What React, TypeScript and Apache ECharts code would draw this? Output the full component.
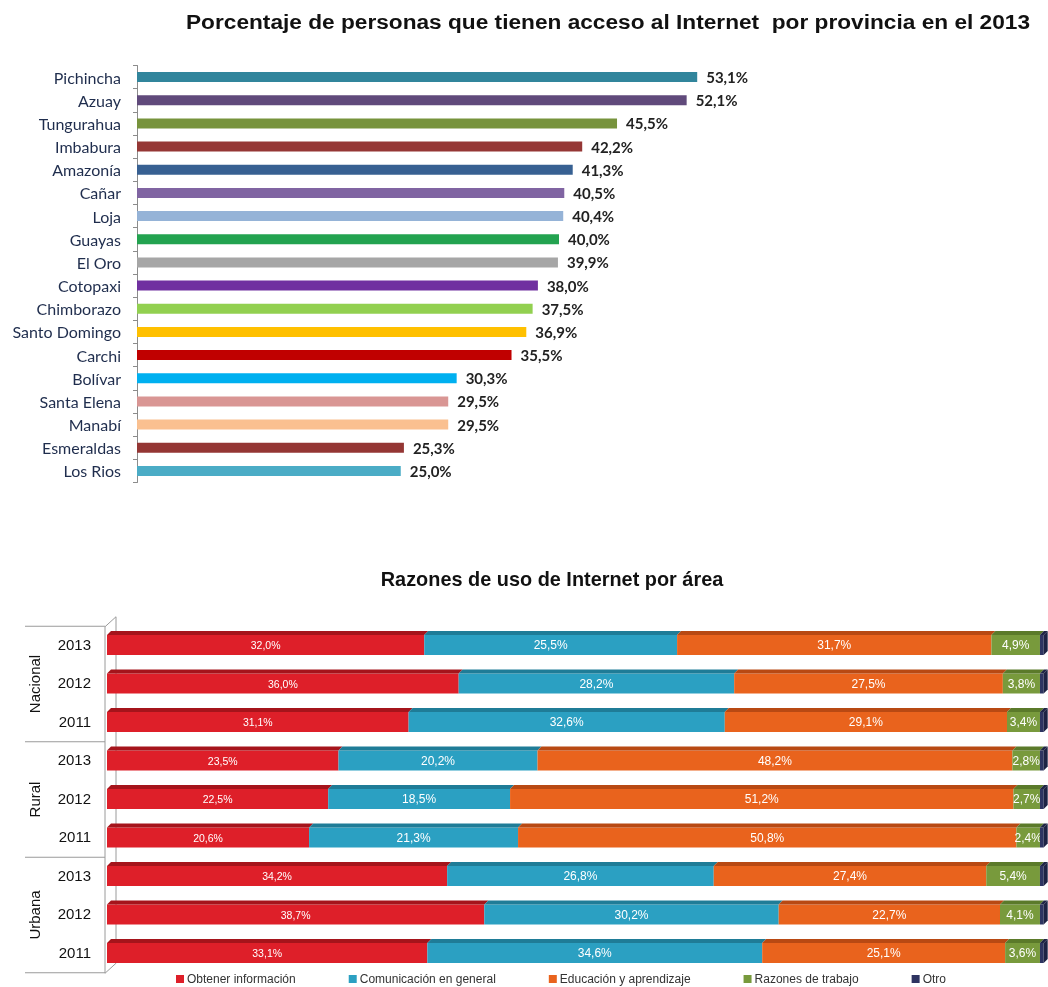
import React, { useEffect, useRef } from "react";
import * as echarts from "echarts";

// ---------- Top chart data ----------
const provinces = [
  "Pichincha", "Azuay", "Tungurahua", "Imbabura", "Amazonía", "Cañar", "Loja", "Guayas", "El Oro",
  "Cotopaxi", "Chimborazo", "Santo Domingo", "Carchi", "Bolívar", "Santa Elena", "Manabí", "Esmeraldas", "Los Rios",
];
const accessPct = [53.1, 52.1, 45.5, 42.2, 41.3, 40.5, 40.4, 40.0, 39.9, 38.0, 37.5, 36.9, 35.5, 30.3, 29.5, 29.5, 25.3, 25.0];
const provinceColors = [
  "#31859C", "#604A7B", "#77933C", "#953735", "#376092", "#8064A2", "#95B3D7", "#23A350", "#A6A6A6",
  "#7030A0", "#92D050", "#FFC000", "#C00000", "#00B0F0", "#D99694", "#FAC090", "#943634", "#4BACC6",
];

// ---------- Bottom chart data ----------
const areas = ["Nacional", "Rural", "Urbana"];
const yearRows = ["2013", "2012", "2011", "2013", "2012", "2011", "2013", "2012", "2011"];
const obtener = [32.0, 36.0, 31.1, 23.5, 22.5, 20.6, 34.2, 38.7, 33.1];
const comunicacion = [25.5, 28.2, 32.6, 20.2, 18.5, 21.3, 26.8, 30.2, 34.6];
const educacion = [31.7, 27.5, 29.1, 48.2, 51.2, 50.8, 27.4, 22.7, 25.1];
const trabajo = [4.9, 3.8, 3.4, 2.8, 2.7, 2.4, 5.4, 4.1, 3.6];
const otro = [0.4, 0.4, 0.4, 0.4, 0.4, 0.4, 0.4, 0.4, 0.4];
const reasonNames = ["Obtener información", "Comunicación en general", "Educación y aprendizaje", "Razones de trabajo", "Otro"];
const reasonColors = ["#DE1F29", "#2BA0C2", "#E9631D", "#789A3C", "#2E3461"];
const reasonTopColors = ["#A5141B", "#1F7C97", "#B84913", "#5B7A2A", "#1E2344"];

const fmt = (v: number) => v.toFixed(1).replace(".", ",") + "%";

// layout constants
const TOP_GRID = { left: 137, top: 65.5, width: 633, height: 417 };
const BOT_GRID = { left: 107, top: 624.75, width: 936.7, height: 346.5 };
const BAR_H = 20;
const DEPTH = 4;

function buildStack() {
  const all = [obtener, comunicacion, educacion, trabajo];
  const out: any[][] = [[], [], [], [], []];
  for (let r = 0; r < yearRows.length; r++) {
    const sum = all.reduce((s, a) => s + a[r], 0);
    let acc = 0;
    all.forEach((arr, i) => {
      const w = (arr[r] / sum) * 100;
      out[i].push([acc, acc + w, r, arr[r]]);
      acc += w;
    });
    out[4].push([acc, acc + otro[r], r, otro[r]]);
  }
  return out;
}

function makeRender(idx: number) {
  return (params: any, api: any) => {
    const x0 = api.value(0);
    const x1 = api.value(1);
    const row = api.value(2);
    const v = api.value(3);
    const a = api.coord([x0, row]);
    const b = api.coord([x1, row]);
    const cy = a[1] + 1;
    const top = cy - BAR_H / 2;
    const children: any[] = [
      { type: "rect", shape: { x: a[0], y: top, width: b[0] - a[0], height: BAR_H }, style: { fill: reasonColors[idx] } },
      {
        type: "polygon",
        shape: { points: [[a[0], top], [b[0], top], [b[0] + DEPTH, top - DEPTH], [a[0] + DEPTH, top - DEPTH]] },
        style: { fill: reasonTopColors[idx] },
      },
    ];
    if (idx === 4) {
      children.push({
        type: "polygon",
        shape: { points: [[b[0], top], [b[0] + DEPTH, top - DEPTH], [b[0] + DEPTH, top + BAR_H - DEPTH], [b[0], top + BAR_H]] },
        style: { fill: reasonTopColors[idx] },
      });
    } else {
      children.push({
        type: "text",
        style: {
          text: fmt(v),
          x: (a[0] + b[0]) / 2,
          y: cy,
          align: "center",
          verticalAlign: "middle",
          fill: "#ffffff",
          font: idx === 0 ? "10.5px 'Liberation Sans', Arial" : "12px 'Liberation Sans', Arial",
        },
      });
    }
    return { type: "group", children };
  };
}

export default function App() {
  const ref = useRef<HTMLDivElement>(null);
  useEffect(() => {
    if (!ref.current) return;
    const chart = echarts.init(ref.current, null, { renderer: "svg" });
    const stack = buildStack();
    const band = BOT_GRID.height / yearRows.length;
    const gl = BOT_GRID.left;
    const gt = BOT_GRID.top;
    const gb = BOT_GRID.top + BOT_GRID.height;
    const lineStyle = { stroke: "#9a9a9a", lineWidth: 1 };
    const graphics: any[] = [
      {
        type: "text",
        x: 608,
        y: 22,
        scaleX: 1.08,
        style: {
          text: "Porcentaje de personas que tienen acceso al Internet  por provincia en el 2013",
          align: "center",
          verticalAlign: "middle",
          font: "bold 21px 'Liberation Sans', Arial",
          fill: "#111",
        },
      },
      {
        type: "text",
        x: 552,
        y: 579,
        scaleX: 1.02,
        style: {
          text: "Razones de uso de Internet por área",
          align: "center",
          verticalAlign: "middle",
          font: "bold 19.5px 'Liberation Sans', Arial",
          fill: "#111",
        },
      },
      // 3D wall lines
      { type: "line", shape: { x1: gl - 2, y1: gt + 2, x2: gl - 2, y2: gb + 2 }, style: lineStyle },
      { type: "line", shape: { x1: gl - 2, y1: gt + 2, x2: gl + 9, y2: gt - 8 }, style: lineStyle },
      { type: "line", shape: { x1: gl + 9, y1: gt - 8, x2: gl + 9, y2: gb - 8 }, style: lineStyle },
      { type: "line", shape: { x1: gl - 2, y1: gb + 2, x2: gl + 9, y2: gb - 8 }, style: lineStyle },
    ];
    for (let g = 0; g <= areas.length; g++) {
      const y = gt + g * 3 * band + 1.5;
      graphics.push({ type: "line", shape: { x1: 25, y1: y, x2: gl - 2, y2: y }, style: lineStyle });
    }
    areas.forEach((name, g) => {
      graphics.push({
        type: "text",
        x: 34,
        y: gt + (g * 3 + 1.5) * band + 1.5,
        rotation: Math.PI / 2,
        style: { text: name, align: "center", verticalAlign: "middle", font: "15px 'Liberation Sans', Arial", fill: "#111" },
      });
    });

    const option: any = {
      animation: false,
      grid: [
        { ...TOP_GRID, containLabel: false },
        { ...BOT_GRID, containLabel: false },
      ],
      xAxis: [
        { type: "value", gridIndex: 0, min: 0, max: 60, show: false },
        { type: "value", gridIndex: 1, min: 0, max: 100.4, show: false },
      ],
      yAxis: [
        {
          type: "category",
          gridIndex: 0,
          inverse: true,
          data: provinces,
          axisLine: { show: true, lineStyle: { color: "#8c8c8c" } },
          axisTick: { show: true, length: 4, lineStyle: { color: "#8c8c8c" } },
          axisLabel: { margin: 16, fontFamily: "Lato", fontSize: 16, color: "#1F2D4D" },
        },
        {
          type: "category",
          gridIndex: 1,
          inverse: true,
          data: yearRows,
          axisLine: { show: false },
          axisTick: { show: false },
          axisLabel: { margin: 16, fontFamily: "'Liberation Sans', Arial", fontSize: 15, color: "#111" },
        },
      ],
      legend: {
        left: 176,
        top: 973,
        padding: 0,
        itemWidth: 8,
        itemHeight: 8,
        itemGap: 53,
        icon: "rect",
        data: reasonNames,
        textStyle: { fontFamily: "'Liberation Sans', Arial", fontSize: 12, color: "#333", padding: [0, 0, 0, -2] },
      },
      graphic: graphics,
      series: [
        {
          type: "bar",
          xAxisIndex: 0,
          yAxisIndex: 0,
          barWidth: 10,
          data: accessPct.map((v, i) => ({ value: v, itemStyle: { color: provinceColors[i] } })),
          label: {
            show: true,
            position: "right",
            distance: 9,
            formatter: (p: any) => fmt(p.value),
            fontFamily: "Lato",
            fontWeight: "bold",
            fontSize: 15,
            color: "#222",
          },
        },
        ...reasonNames.map((name, i) => ({
          type: "custom",
          name,
          xAxisIndex: 1,
          yAxisIndex: 1,
          clip: false,
          itemStyle: { color: reasonColors[i] },
          encode: { x: [0, 1], y: 2 },
          data: stack[i],
          renderItem: makeRender(i),
        })),
      ],
    };
    chart.setOption(option);
    return () => chart.dispose();
  }, []);
  return <div ref={ref} style={{ position: "fixed", left: 0, top: 0, width: 1048, height: 987 }} />;
}
